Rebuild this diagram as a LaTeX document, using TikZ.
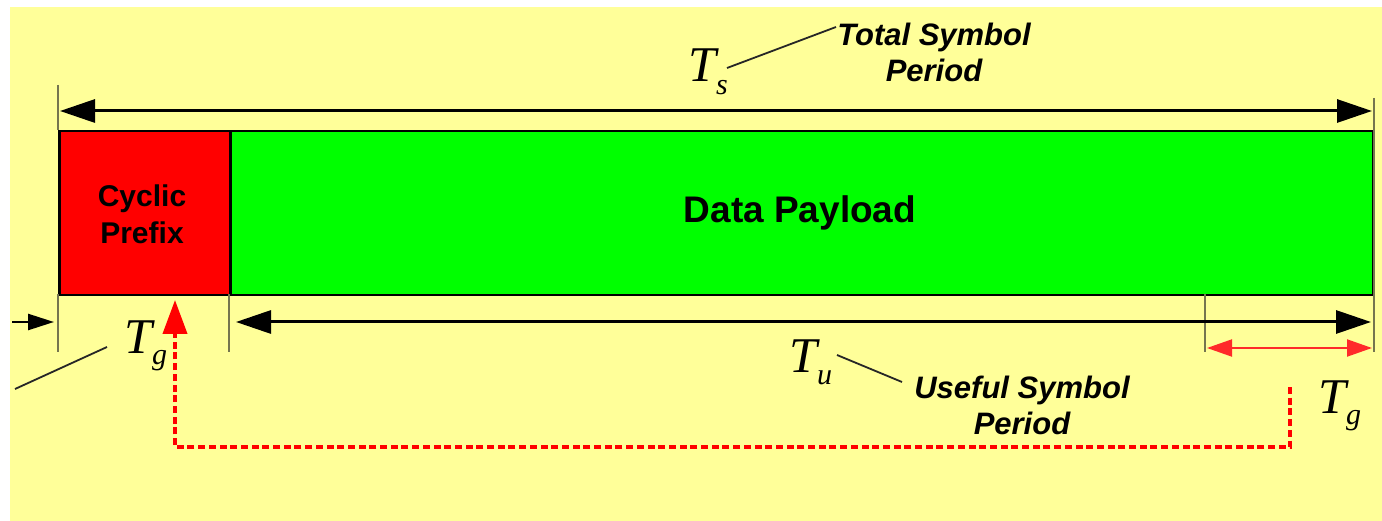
\documentclass[tikz,border=0pt]{standalone}
\usepackage{fontspec}
\setmainfont{Liberation Sans}
\newfontfamily\tms{Liberation Serif}
\usetikzlibrary{arrows.meta}
\definecolor{paper}{HTML}{FFFF99}
\definecolor{cpred}{HTML}{FF0000}
\definecolor{datagreen}{HTML}{00FF00}
\definecolor{tickgray}{HTML}{75754F}
\definecolor{linkred}{HTML}{FF2A2A}
\newcommand{\symT}[2]{{\tms\itshape\fontsize{50}{50}\selectfont T\kern0pt\raisebox{-#2}{\fontsize{30}{30}\selectfont #1}}}
\tikzset{
  block/.style={draw=black, line width=2.5pt, minimum height=164pt, inner sep=0pt, anchor=north west},
  tickline/.style={draw=tickgray, line width=2pt},
  dimarrow/.style={draw=black, line width=3pt, {Triangle[length=35pt,width=23pt]}-{Triangle[length=35pt,width=23pt]}},
  smallarrow/.style={draw=black, line width=2.5pt, -{Triangle[length=26pt,width=16pt]}},
  redarrow/.style={draw=linkred, line width=2pt, {Triangle[length=25pt,width=17pt]}-{Triangle[length=25pt,width=17pt]}},
  copyarrow/.style={draw=red, line width=4pt, dash pattern=on 7pt off 3.7pt, -{Triangle[length=34pt,width=24pt,fill=red]}},
  leader/.style={draw=black!85, line width=1.8pt},
  caption/.style={font=\bfseries\itshape\fontsize{31}{36}\selectfont, align=center, inner sep=0pt},
  sym/.style={inner sep=0pt, anchor=base west},
}
\begin{document}
\begin{tikzpicture}[x=1pt, y=-1pt]
  % page and background
  \useasboundingbox (0,0) rectangle (1382,521);
  \fill[paper] (10,7) rectangle (1382,521);

  % the symbol: cyclic prefix followed by the data payload
  \node[block, fill=cpred, minimum width=171pt] (cp) at (58,130) {};
  \node[block, fill=datagreen, minimum width=1143pt] (data) at (229,130) {};
  \node[font=\bfseries\fontsize{30}{37}\selectfont, align=center, inner sep=0pt] (cptext) at (142,214) {Cyclic\\Prefix};
  \node[font=\bfseries\fontsize{37}{40}\selectfont, inner sep=0pt, anchor=base] (datatext) at (800,223) {Data Payload};

  % extension ticks
  \coordinate (tsL) at (58,85);
  \coordinate (tsLb) at (58,130);
  \coordinate (tsR) at (1374,98);
  \coordinate (tsRb) at (1374,352);
  \coordinate (tgA) at (58,294);
  \coordinate (tgAb) at (58,352);
  \coordinate (tgB) at (229,294);
  \coordinate (tgBb) at (229,352);
  \coordinate (tgC) at (1205,294);
  \coordinate (tgCb) at (1205,352);
  \draw[tickline] (tsL) -- (tsLb);
  \draw[tickline] (tsR) -- (tsRb);
  \draw[tickline] (tgA) -- (tgAb);
  \draw[tickline] (tgB) -- (tgBb);
  \draw[tickline] (tgC) -- (tgCb);

  % total symbol period
  \coordinate (tsa) at (60,111);
  \coordinate (tsb) at (1372,111);
  \draw[dimarrow] (tsa) -- (tsb);
  \node[sym] (Ts) at (688,82) {\symT{s}{13pt}};
  \node[caption] (tscap) at (934,52) {Total Symbol\\Period};
  \coordinate (tsl1) at (727,68);
  \coordinate (tsl2) at (836,27);
  \draw[leader] (tsl1) -- (tsl2);

  % useful symbol period
  \coordinate (tua) at (236,322);
  \coordinate (tub) at (1371,322);
  \draw[dimarrow] (tua) -- (tub);
  \node[sym] (Tu) at (789,373) {\symT{u}{12pt}};
  \node[caption] (tucap) at (1022,405) {Useful Symbol\\Period};
  \coordinate (tul1) at (837,355);
  \coordinate (tul2) at (902,382);
  \draw[leader] (tul1) -- (tul2);

  % guard interval at the start
  \coordinate (tgin) at (12,322);
  \coordinate (tgtip) at (54,322);
  \draw[smallarrow] (tgin) -- (tgtip);
  \node[sym] (Tg1) at (124,354) {\symT{g}{10pt}};
  \coordinate (tgl1) at (15,389);
  \coordinate (tgl2) at (107,347);
  \draw[leader] (tgl1) -- (tgl2);

  % guard interval copied from the end of the payload
  \coordinate (gra) at (1207,348);
  \coordinate (grb) at (1372,348);
  \draw[redarrow] (gra) -- (grb);
  \node[sym] (Tg2) at (1318,413) {\symT{g}{11pt}};

  % copy path back to the cyclic prefix
  \coordinate (cpsrc) at (1290,387);
  \coordinate (cpbend1) at (1290,447);
  \coordinate (cpbend2) at (175,447);
  \coordinate (cpdst) at (175,300);
  \draw[copyarrow] (cpsrc) -- (cpbend1) -- (cpbend2) -- (cpdst);
\end{tikzpicture}
\end{document}
